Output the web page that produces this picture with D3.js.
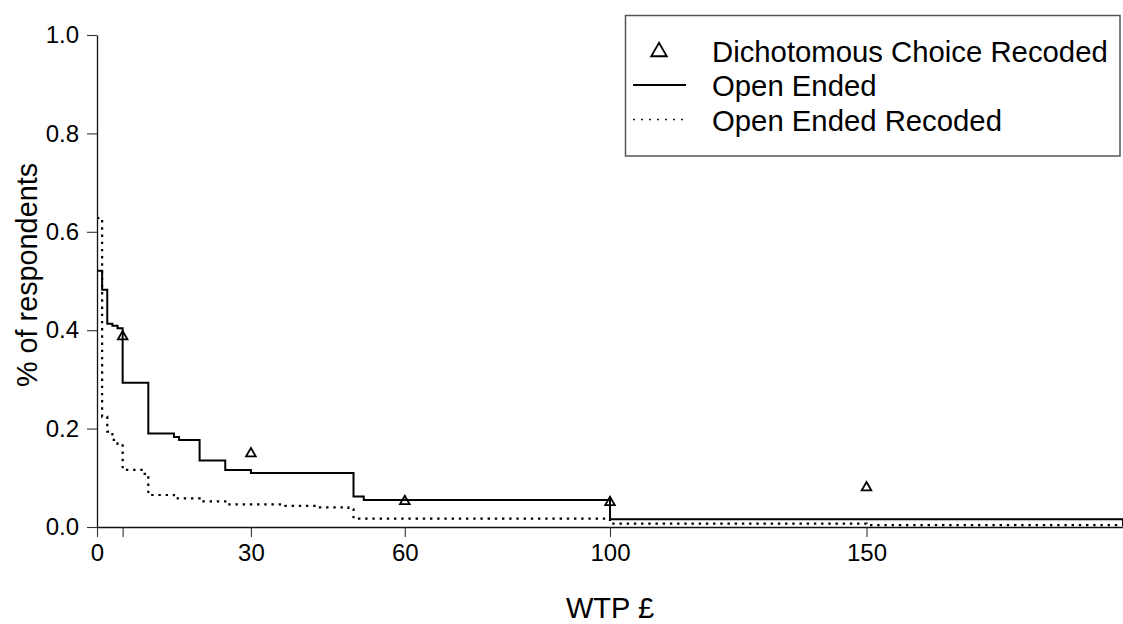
<!DOCTYPE html>
<html>
<head>
<meta charset="utf-8">
<script src="https://cdn.jsdelivr.net/npm/d3@7"></script>
<style>
  html, body { margin: 0; padding: 0; background: #fff; }
  svg { display: block; font-family: "Liberation Sans", Arial, sans-serif; }
</style>
</head>
<body>
<svg id="chart" width="1123" height="624"></svg>
<script>
// ---------- data ----------
const xTicks = [0, 5, 30, 60, 100, 150];
const xTickLabels = ["0", "", "30", "60", "100", "150"];
const yTicks = [0, 0.2, 0.4, 0.6, 0.8, 1.0];
const yTickLabels = ["0.0", "0.2", "0.4", "0.6", "0.8", "1.0"];

// Open Ended (solid step line)
const oeX = [0, 1, 2, 3, 4, 5, 10, 15, 16, 20, 25, 30, 50, 52, 100, 200];
const oeY = [0.521, 0.482, 0.413, 0.409, 0.404, 0.293, 0.190, 0.183, 0.177, 0.135, 0.116, 0.110, 0.062, 0.055, 0.016, 0.004];

// Open Ended Recoded (dotted step line)
const oerX = [0, 1, 2, 3, 4, 5, 9, 10, 15, 20, 25, 36, 43, 49, 50, 100, 150, 200];
const oerY = [0.628, 0.224, 0.194, 0.177, 0.169, 0.116, 0.108, 0.065, 0.058, 0.052, 0.046, 0.043, 0.040, 0.036, 0.017, 0.007, 0.004, 0.004];

// Dichotomous Choice Recoded (triangles)
const dcX = [5, 30, 60, 100, 150];
const dcY = [0.390, 0.152, 0.055, 0.053, 0.083];

const legendLabels = ["Dichotomous Choice Recoded", "Open Ended", "Open Ended Recoded"];
const xTitle = "WTP £";
const yTitle = "% of respondents";

// ---------- drawing ----------
const svg = d3.select("#chart");
const x = d3.scaleLinear().domain([0, 200]).range([97, 1123]);
const y = d3.scaleLinear().domain([0, 1]).range([527, 35]);

// triangle symbol centred on its bounding box (like R pch=2)
const triUp = {
  draw(ctx, size) {
    const s = Math.sqrt(size * 4 / Math.sqrt(3));
    const h = s * Math.sqrt(3) / 2;
    ctx.moveTo(0, -h / 2);
    ctx.lineTo(s / 2, h / 2);
    ctx.lineTo(-s / 2, h / 2);
    ctx.closePath();
  }
};

// axes
const yAxis = d3.axisLeft(y).tickValues(yTicks)
  .tickFormat((d, i) => yTickLabels[i]).tickSize(10).tickSizeOuter(0).tickPadding(8);
const gy = svg.append("g").attr("transform", "translate(97,0)").call(yAxis);

const xAxis = d3.axisBottom(x).tickValues(xTicks)
  .tickFormat((d, i) => xTickLabels[i]).tickSize(10).tickSizeOuter(0).tickPadding(7);
const gx = svg.append("g").attr("transform", "translate(0,527)").call(xAxis);

[gx, gy].forEach(g => {
  g.selectAll("path.domain").attr("stroke", "#111").attr("stroke-width", 1.3);
  g.selectAll(".tick line").attr("stroke", "#333").attr("stroke-width", 1.1);
  g.selectAll(".tick text").attr("fill", "#000").style("font-size", "24px")
    .style("font-family", "'Liberation Sans', Arial, sans-serif");
});

// lines
const stepLine = d3.line().x(d => x(d[0])).y(d => y(d[1])).curve(d3.curveStepAfter);

svg.append("path")
  .datum(oerX.map((v, i) => [v, oerY[i]]))
  .attr("d", stepLine)
  .attr("fill", "none").attr("stroke", "#000").attr("stroke-width", 2.2)
  .attr("stroke-dasharray", "2.4,4.8");

svg.append("path")
  .datum(oeX.map((v, i) => [v, oeY[i]]))
  .attr("d", stepLine)
  .attr("fill", "none").attr("stroke", "#000").attr("stroke-width", 2);

// triangles
svg.append("g").selectAll("path")
  .data(dcX.map((v, i) => [v, dcY[i]]))
  .join("path")
  .attr("transform", d => `translate(${x(d[0])},${y(d[1])})`)
  .attr("d", d3.symbol().type(triUp).size(40))
  .attr("fill", "none").attr("stroke", "#000").attr("stroke-width", 1.8);

// axis titles
svg.append("text")
  .attr("x", 610).attr("y", 618)
  .attr("text-anchor", "middle")
  .style("font-size", "29px")
  .text(xTitle);

svg.append("text")
  .attr("transform", "translate(37,275) rotate(-90)")
  .attr("text-anchor", "middle")
  .style("font-size", "28.8px")
  .text(yTitle);

// legend
const lg = svg.append("g");
lg.append("rect")
  .attr("x", 625.5).attr("y", 15.5).attr("width", 494.5).attr("height", 140.5)
  .attr("fill", "#fff").attr("stroke", "#555").attr("stroke-width", 1.5);

const rowY = [51.5, 86, 120.5];
lg.append("path")
  .attr("transform", `translate(659,${rowY[0] - 2})`)
  .attr("d", d3.symbol().type(triUp).size(105))
  .attr("fill", "none").attr("stroke", "#000").attr("stroke-width", 1.8);
lg.append("line")
  .attr("x1", 633).attr("x2", 686).attr("y1", rowY[1] - 1).attr("y2", rowY[1] - 1)
  .attr("stroke", "#000").attr("stroke-width", 2);
lg.append("line")
  .attr("x1", 633).attr("x2", 686).attr("y1", rowY[2] - 1).attr("y2", rowY[2] - 1)
  .attr("stroke", "#000").attr("stroke-width", 1.6).attr("stroke-dasharray", "1.8,6.2");

lg.selectAll("text.leg")
  .data(legendLabels)
  .join("text")
  .attr("class", "leg")
  .attr("x", 712).attr("y", (d, i) => rowY[i] + 10.4)
  .style("font-size", "29.3px")
  .text(d => d);
</script>
</body>
</html>
